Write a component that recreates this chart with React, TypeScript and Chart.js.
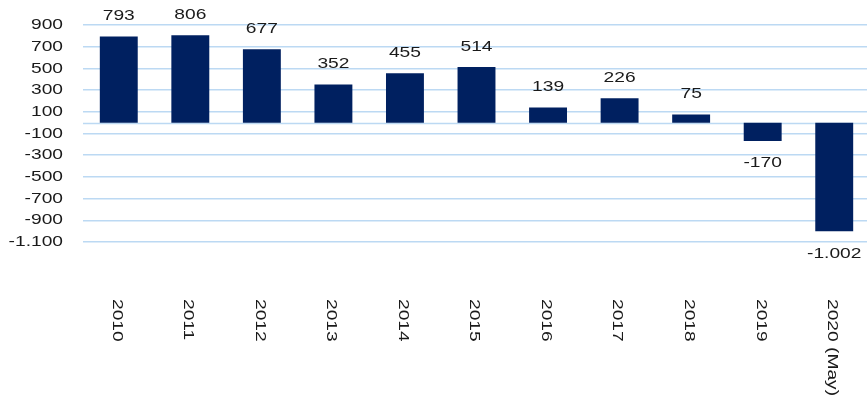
import React, { useEffect, useRef } from 'react';
import { Chart, registerables } from 'chart.js';

Chart.register(...registerables);

const categories = ['2010', '2011', '2012', '2013', '2014', '2015', '2016', '2017', '2018', '2019', '2020 (May)'];
const values = [793, 806, 677, 352, 455, 514, 139, 226, 75, -170, -1002];
const yTicks = [900, 700, 500, 300, 100, -100, -300, -500, -700, -900, -1100];

const FONT = '15px "Liberation Sans", Arial, sans-serif';
const SX = 1.28;
const TEXT_COLOR = '#1a1a1a';
const GRID_COLOR = '#bcd9f3';
const BAR_COLOR = '#002060';

function fmt(v: number): string {
  const s = Math.abs(v).toString().replace(/\B(?=(\d{3})+(?!\d))/g, '.');
  return (v < 0 ? '-' : '') + s;
}

function drawText(ctx: CanvasRenderingContext2D, text: string, x: number, y: number, align: CanvasTextAlign, rot = 0) {
  ctx.save();
  ctx.translate(x, y);
  if (rot) ctx.rotate(rot);
  ctx.scale(SX, 1);
  ctx.font = FONT;
  ctx.fillStyle = TEXT_COLOR;
  ctx.textAlign = align;
  ctx.textBaseline = 'middle';
  ctx.fillText(text, 0, 0);
  ctx.restore();
}

const zeroLinePlugin = {
  id: 'zeroLine',
  beforeDatasetsDraw(chart: any) {
    const { ctx, chartArea, scales } = chart;
    const y = Math.round(scales.y.getPixelForValue(0)) + 0.5;
    ctx.save();
    ctx.strokeStyle = GRID_COLOR;
    ctx.lineWidth = 1.5;
    ctx.beginPath();
    ctx.moveTo(chartArea.left, y);
    ctx.lineTo(chartArea.right, y);
    ctx.stroke();
    ctx.restore();
  },
};

const textPlugin = {
  id: 'customText',
  afterDraw(chart: any) {
    const { ctx, scales } = chart;
    yTicks.forEach((v) => {
      const y = scales.y.getPixelForValue(v);
      drawText(ctx, fmt(v), 63, y, 'right');
    });
    const meta = chart.getDatasetMeta(0);
    meta.data.forEach((el: any, i: number) => {
      const v = values[i];
      if (v >= 0) {
        drawText(ctx, fmt(v), el.x, el.y - 20.5, 'center');
      } else {
        drawText(ctx, fmt(v), el.x, el.y + 22, 'center');
      }
    });
    categories.forEach((c, i) => {
      const x = scales.x.getPixelForValue(i) - 2;
      drawText(ctx, c, x, 299, 'left', Math.PI / 2);
    });
  },
};

export default function App() {
  const ref = useRef<HTMLCanvasElement | null>(null);

  useEffect(() => {
    if (!ref.current) return;
    const chart = new Chart(ref.current, {
      type: 'bar',
      data: {
        labels: categories,
        datasets: [
          {
            data: values,
            backgroundColor: BAR_COLOR,
            borderWidth: 0,
            barPercentage: 0.53,
            categoryPercentage: 1,
          },
        ],
      },
      options: {
        responsive: false,
        animation: false,
        devicePixelRatio: 1,
        layout: { padding: { top: 25, bottom: 167, left: 0, right: 0 } },
        plugins: {
          legend: { display: false },
          tooltip: { enabled: false },
        },
        scales: {
          x: {
            type: 'category',
            grid: { display: false },
            border: { display: false },
            ticks: { display: false },
            afterFit: (s: any) => {
              s.height = 0;
            },
          },
          y: {
            type: 'linear',
            min: -1100,
            max: 900,
            afterBuildTicks: (s: any) => {
              s.ticks = yTicks.map((v) => ({ value: v }));
            },
            grid: { color: GRID_COLOR, lineWidth: 1.5, drawTicks: false },
            border: { display: false },
            ticks: { display: false },
            afterFit: (s: any) => {
              s.width = 83;
            },
          },
        },
      },
      plugins: [zeroLinePlugin, textPlugin],
    });
    return () => chart.destroy();
  }, []);

  return (
    <div style={{ position: 'fixed', left: 0, top: 0, width: 867, height: 409, overflow: 'hidden', background: '#fff' }}>
      <canvas ref={ref} width={870} height={409} style={{ display: 'block' }} />
    </div>
  );
}
